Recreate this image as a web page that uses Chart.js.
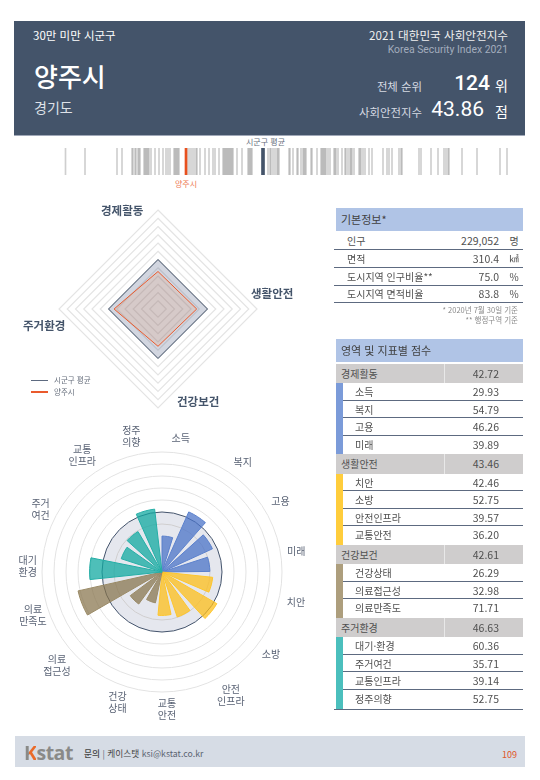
<!DOCTYPE html>
<html lang="ko"><head><meta charset="utf-8">
<script src="https://cdn.jsdelivr.net/npm/chart.js@4"></script>
<style>
*{box-sizing:border-box}
html,body{margin:0;padding:0;background:#fff}
body{width:540px;height:780px;position:relative;overflow:hidden;font-family:"Noto Sans CJK KR","Noto Sans",sans-serif;color:#444}
.a{position:absolute;white-space:nowrap;line-height:1}
canvas{position:absolute}
#hd{position:absolute;left:14px;top:21px;width:511px;height:115px;background:#44546a;border-bottom:1px solid #a0a8b8}
.ttl{position:absolute;left:336px;width:187px;height:23px;background:#b0c4e6;color:#404040;font-size:11px;line-height:22px;padding-left:5px}
.row{position:absolute;left:334px;width:189px;height:18px;font-size:10px;color:#505050;border-bottom:1px solid #5d6a80}
.row span{position:absolute;top:3px;line-height:1.1}
#tb{position:absolute;left:336px;top:363px;width:187px}
.g{position:relative;height:19.5px;margin-top:.5px;background:#cfcdcd;font-size:10px;color:#505050;line-height:19px;padding-left:5px}
.g:after{content:"";position:absolute;left:108px;top:0;bottom:0;width:1px;background:#e8e8e8}
.g b{font-weight:400;position:absolute;right:24px;top:0;font-size:10.5px}
.s{position:relative;height:17.65px;font-size:10px;color:#505050;line-height:17px;padding-left:19px;border-bottom:1px solid #5d6a80}
.s.l{border-bottom:0}
.s i{position:absolute;left:0;top:0;bottom:-1px;width:7px}
.s b{font-weight:400;position:absolute;right:24px;top:0;font-size:10.5px}
</style></head><body>
<div id="hd"></div>
<div class="a" style="left:33px;top:30px;font-size:11.5px;color:#fff">30만 미만 시군구</div>
<div class="a" style="right:32px;top:30px;font-size:11.6px;color:#f0f0f0">2021 대한민국 사회안전지수</div>
<div class="a" style="right:32px;top:45px;font-size:10.4px;color:#a3adbd;font-family:Roboto,'Noto Sans'">Korea Security Index 2021</div>
<div class="a" style="left:34px;top:63px;font-size:26px;font-weight:500;color:#fff">양주시</div>
<div class="a" style="left:34px;top:100px;font-size:14px;color:#dfe2e8">경기도</div>
<div class="a" style="right:118px;top:81px;font-size:11.4px;color:#d6dae2">전체 순위</div>
<div class="a" style="right:50px;top:73px;font-size:21px;font-weight:500;color:#fff;font-family:Roboto">124</div>
<div class="a" style="right:32px;top:78px;font-size:14px;color:#fff">위</div>
<div class="a" style="right:118px;top:107px;font-size:11.4px;color:#d6dae2">사회안전지수</div>
<div class="a" style="right:56px;top:99px;font-size:21px;color:#fff;font-family:Roboto">43.86</div>
<div class="a" style="right:32px;top:104px;font-size:14px;color:#fff">점</div>

<div class="a" style="left:246px;top:138px;font-size:8px;color:#666e7c">시군구 평균</div>
<div class="a" style="left:175px;top:180px;font-size:8px;color:#ee7a55">양주시</div>
<canvas id="strip" width="460" height="27" style="left:60px;top:148px;width:460px;height:27px"></canvas>

<canvas id="radar" width="202" height="202" style="left:57px;top:208px;width:202px;height:202px"></canvas>
<div class="a rl" id="rl0" style="left:101px;top:205px;font-size:11.5px;font-weight:700;color:#44546a"></div>
<div class="a rl" id="rl1" style="left:251px;top:288px;font-size:11.5px;font-weight:700;color:#44546a"></div>
<div class="a rl" id="rl2" style="left:177px;top:396px;font-size:11.5px;font-weight:700;color:#44546a"></div>
<div class="a rl" id="rl3" style="left:23px;top:320px;font-size:11.5px;font-weight:700;color:#44546a"></div>

<div class="a" style="left:31px;top:380px;width:17px;height:1px;background:#5d6a80"></div>
<div class="a" style="left:54px;top:376px;font-size:7.5px;color:#666e7c" id="lg0"></div>
<div class="a" style="left:31px;top:391px;width:17px;height:2px;background:#ea5a2c"></div>
<div class="a" style="left:54px;top:388px;font-size:7.5px;color:#666e7c" id="lg1"></div>

<canvas id="polar" width="320" height="320" style="left:2px;top:412px;width:320px;height:320px"></canvas>

<div class="ttl" style="top:208px">기본정보*</div>
<div id="info"></div>
<div class="a" style="right:22px;top:306px;font-size:7.5px;color:#8a8a8a">* 2020년 7월 30일 기준</div>
<div class="a" style="right:22px;top:316px;font-size:7.5px;color:#8a8a8a">** 행정구역 기준</div>

<div class="ttl" style="top:339px">영역 및 지표별 점수</div>
<div id="tb"></div>
<div class="a" style="left:334px;top:709px;width:189px;height:1px;background:#5d6a80"></div>

<div class="a" style="left:15px;top:736px;width:510px;height:31px;background:#d6dce5"></div>
<div class="a" style="left:24px;top:743px;font-size:19.5px;font-weight:700;font-family:'Open Sans';letter-spacing:-.5px;color:#8a8a88"><span style="background:linear-gradient(90deg,#8a8a88 42%,#ea6a28 42%);-webkit-background-clip:text;background-clip:text;color:transparent">K</span>stat</div>
<div class="a" style="left:84px;top:750px;font-size:8.7px;color:#5a6270"><span style="font-weight:500;color:#444">문의</span> | <span style="color:#444">케이스탯</span> ksi@kstat.co.kr</div>
<div class="a" style="right:23px;top:750px;font-size:9px;color:#e0572a">109</div>

<script>
// ---- data ----
const domainNames = ['경제활동','생활안전','건강보건','주거환경'];
const domainScores = [42.72,43.46,42.61,46.63];
const averageScores = [50,50,50,50];
const averageLabel = '시군구 평균';
const cityLabel = '양주시';
const cityIndex = 43.86;
const averageIndex = 50.02;

const indicatorNames = ['소득','복지','고용','미래','치안','소방','안전인프라','교통안전','건강상태','의료접근성','의료만족도','대기·환경','주거여건','교통인프라','정주의향'];
const indicatorLabels = [['소득'],['복지'],['고용'],['미래'],['치안'],['소방'],['안전','인프라'],['교통','안전'],['건강','상태'],['의료','접근성'],['의료','만족도'],['대기','환경'],['주거','여건'],['교통','인프라'],['정주','의향']];
const indicatorScores = [29.93,54.79,46.26,39.89,42.46,52.75,39.57,36.20,26.29,32.98,71.71,60.36,35.71,39.14,52.75];
const domainSizes = [4,4,3,4];
const infoRows = [['인구','229,052','명'],['면적','310.4','㎢'],['도시지역 인구비율**','75.0','%'],['도시지역 면적비율','83.8','%']];
const allIndexes = [34.22,35.78,38.34,38.74,39.54,39.62,39.78,39.86,40.02,40.10,40.18,40.50,40.58,40.66,40.74,40.82,40.90,41.06,41.38,41.70,42.02,42.26,42.42,42.58,42.90,42.98,43.06,43.14,43.22,43.30,44.02,44.18,44.34,44.50,44.66,44.74,44.98,45.38,45.70,46.02,46.18,46.50,46.82,46.90,46.98,47.06,47.14,47.22,47.30,47.38,47.46,47.54,47.62,47.94,48.34,48.82,48.90,48.98,49.06,49.14,50.42,50.58,50.66,50.82,50.98,51.14,51.22,51.30,52.10,52.18,52.42,52.74,52.82,53.06,53.22,53.30,53.38,53.46,53.86,53.94,54.34,54.66,54.74,54.82,54.90,54.98,55.06,55.22,55.38,55.70,55.78,55.86,56.02,56.34,56.58,56.66,56.82,56.98,57.06,57.14,57.30,57.70,57.78,57.86,58.02,58.18,58.50,58.74,59.62,59.94,60.10,60.34,60.90,61.06,61.14,62.50,62.66,63.46,64.02,64.50,64.66,64.82,64.90,65.94,67.14,68.98,69.54];

// ---- styles ----
const domainFill = ['rgba(74,115,200,.74)','rgba(253,190,25,.74)','rgba(135,115,75,.72)','rgba(16,168,160,.74)'];
const domainLine = ['#5a80cc','#fdc52c','#9a8a66','#25aea6'];
const domainStrip = ['#7b9bd9','#ffcd3c','#ad9e7d','#4bbfbd'];
const labelNudge = [[-2,1.4],[6.7,5],[4,4],[-1,1],[1.5,-4.5],[2,-3.4],[6,1],[-3,0],[4,2],[-8.7,-4.4],[-1.4,-6.8],[2.5,1],[1,-1.4],[7,-11],[5.5,-4]];

// ---- html text ----
domainNames.forEach((n,i)=>document.getElementById('rl'+i).textContent=n);
document.getElementById('lg0').textContent=averageLabel;
document.getElementById('lg1').textContent=cityLabel;
const rowTops=[232,250,268,285];
document.getElementById('info').innerHTML=infoRows.map((r,i)=>
 `<div class="row" style="top:${rowTops[i]}px"><span style="left:13px">${r[0]}</span><span style="right:24px;font-size:10.5px">${r[1]}</span><span style="left:173px;width:14px;text-align:center;${r[2]=='㎢'?'font-size:9.5px;top:3px':''}">${r[2]}</span></div>`).join('');
let html='',k=0;
domainNames.forEach((n,d)=>{
  html+=`<div class="g">${n}<b>${domainScores[d].toFixed(2)}</b></div>`;
  for(let j=0;j<domainSizes[d];j++,k++){
    const last=j===domainSizes[d]-1;
    html+=`<div class="s${last?' l':''}"><i style="background:${domainStrip[d]}"></i>${indicatorNames[k]}<b>${indicatorScores[k].toFixed(2)}</b></div>`;
  }
});
document.getElementById('tb').innerHTML=html;

Chart.defaults.animation=false;
Chart.defaults.responsive=false;
Chart.defaults.plugins.legend.display=false;
Chart.defaults.plugins.tooltip.enabled=false;
Chart.defaults.font.family='"Noto Sans CJK KR","Noto Sans",sans-serif';

// ---- index strip ----
new Chart(document.getElementById('strip'),{
  type:'bar',
  data:{datasets:[
    {data:[{x:cityIndex,y:1}],backgroundColor:'#e8501e',barThickness:2,grouped:false,order:0},
    {data:[{x:averageIndex,y:1}],backgroundColor:'#44546a',barThickness:3,grouped:false,order:1},
    {data:allIndexes.map(v=>({x:v,y:1})),backgroundColor:'rgba(130,130,130,.38)',barThickness:1,grouped:false,order:2}
  ]},
  options:{
    layout:{padding:0},
    scales:{
      x:{type:'linear',min:33.78,max:70.58,display:false,offset:false},
      y:{min:0,max:1,display:false}
    }
  }
});

// ---- domain radar ----
new Chart(document.getElementById('radar'),{
  type:'radar',
  data:{labels:domainNames,datasets:[
    {label:cityLabel,data:domainScores,borderColor:'#ea5a2c',borderWidth:1,backgroundColor:'rgba(232,150,105,.2)',pointRadius:0,fill:true,tension:0},
    {label:averageLabel,data:averageScores,borderColor:'#44546a',borderWidth:1,backgroundColor:'rgba(68,84,125,.24)',pointRadius:0,fill:true,tension:0}
  ]},
  options:{
    layout:{padding:2},
    scales:{r:{min:20,max:80,ticks:{stepSize:5,display:false},
      grid:{color:'#e4e4e4',lineWidth:1.2},angleLines:{display:false},pointLabels:{display:false}}}
  }
});

// ---- indicator polar bars: every bar preceded by a zero-radius gap slice ----
const barAngle=17.3, gapAngle=6.7, firstGap=351.3;
const polarValues=[], polarFill=[], polarLine=[], polarAngles=[], polarBorders=[];
let pos=0;
domainSizes.forEach((size,d)=>{
  for(let j=0;j<size;j++,pos++){
    polarValues.push(0,indicatorScores[pos]);
    polarFill.push('rgba(0,0,0,0)',domainFill[d]);
    polarLine.push('rgba(0,0,0,0)',domainLine[d]);
    polarAngles.push(pos===0?firstGap:gapAngle,barAngle);
    polarBorders.push(0,1);
  }
});
const polarTextPlugin={id:'polarText',afterDraw(chart){
  const s=chart.scales.r,c=chart.ctx;
  c.save();c.font='10px "Noto Sans CJK KR"';c.fillStyle='#5a6375';c.textAlign='center';c.textBaseline='middle';
  indicatorLabels.forEach((lines,i)=>{
    const p=s.getPointPosition(i,137);
    lines.forEach((t,l)=>c.fillText(t,p.x+labelNudge[i][0],p.y+labelNudge[i][1]+(l-(lines.length-1)/2)*12));
  });
  c.restore();
}};
new Chart(document.getElementById('polar'),{
  type:'polarArea',
  plugins:[polarTextPlugin],
  data:{labels:indicatorNames,datasets:[
    {data:polarValues,backgroundColor:polarFill,borderColor:polarLine,borderWidth:polarBorders,angle:polarAngles},
    {data:[50],backgroundColor:'rgba(70,85,135,.14)',borderWidth:0,angle:[360]}
  ]},
  options:{
    layout:{padding:40},
    scales:{r:{min:0,max:100,startAngle:8.7,ticks:{stepSize:10,display:false},
      grid:{color:c=>c.tick.value<40?'rgba(0,0,0,0)':(c.tick.value===50?'#44546a':(c.tick.value===40?'#e6e2da':'#e3e3e3')),lineWidth:1,circular:true},angleLines:{display:false},pointLabels:{display:false}}}
  }
});
</script>
</body></html>
